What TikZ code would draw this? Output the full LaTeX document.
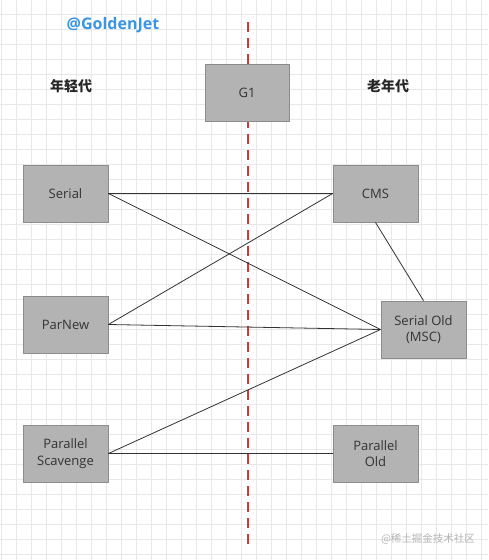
\documentclass[tikz,border=0pt]{standalone}
\usepackage{fontspec}
\setmainfont{Open Sans}
\newfontfamily\cjk{Noto Sans CJK SC}
\definecolor{gridc}{HTML}{E8E8E8}
\definecolor{boxfill}{HTML}{B3B3B3}
\definecolor{boxline}{HTML}{8C8C8C}
\definecolor{boxtext}{HTML}{333333}
\definecolor{dividerred}{RGB}{204,59,59}
\definecolor{jetblue}{HTML}{3A95E4}
\definecolor{wmgray}{HTML}{B4B4B4}
\begin{document}
\begin{tikzpicture}[x=1pt,y=-1pt,
  gcbox/.style={draw=boxline, fill=boxfill, line width=0.8pt, minimum width=85pt, minimum height=57pt,
    inner sep=0pt, text=boxtext, font=\fontsize{13}{16.5}\selectfont, align=center},
  link/.style={draw=black!80, line width=0.8pt},
  divider/.style={draw=dividerred, line width=2pt, dash pattern=on 10pt off 6pt},
  gentext/.style={font=\cjk\bfseries\fontsize{14}{16}\selectfont, text=black!85}]
\useasboundingbox (0,0) rectangle (488,560);
\fill[white] (0,0) rectangle (488,560);
% grid
\foreach \i in {0,...,32} {\draw[gridc, line width=0.7pt] ({1.7+15*\i},0) -- ({1.7+15*\i},560);}
\foreach \j in {0,...,36} {\draw[gridc, line width=0.7pt] (0,{14+15*\j}) -- (488,{14+15*\j});}
% red dashed divider
\coordinate (dtop) at (247.5,22);
\coordinate (dbot) at (247.5,545);
\path[divider] (dtop) -- (dbot);
% texts
\node[font=\bfseries\fontsize{16}{19}\selectfont, text=jetblue] (jet) at (113,25) {@GoldenJet};
\node[gentext] (young) at (71,86) {年轻代};
\node[gentext] (old) at (388,86) {老年代};
\node[font=\cjk\fontsize{10.5}{12}\selectfont, text=wmgray] (wm) at (428,539) {@稀土掘金技术社区};
% boxes
\node[gcbox, minimum width=84pt] (g1) at (247,92.5) {G1};
\node[gcbox] (serial) at (65.5,193.5) {Serial};
\node[gcbox] (parnew) at (65.5,324.5) {ParNew};
\node[gcbox] (ps) at (65.5,453.5) {Parallel\\Scavenge};
\node[gcbox] (cms) at (375.5,193.5) {CMS};
\node[gcbox] (so) at (423.5,329.5) {Serial Old\\(MSC)};
\node[gcbox] (po) at (375.5,453.5) {Parallel\\Old};
% connectors
\draw[link] (serial.east) -- (cms.west);
\draw[link] (serial.east) -- (so.west);
\draw[link] (parnew.east) -- (cms.west);
\draw[link] (parnew.east) -- (so.west);
\draw[link] (ps.east) -- (so.west);
\draw[link] (ps.east) -- (po.west);
\draw[link] (cms.south) -- (so.north);
\end{tikzpicture}
\end{document}
